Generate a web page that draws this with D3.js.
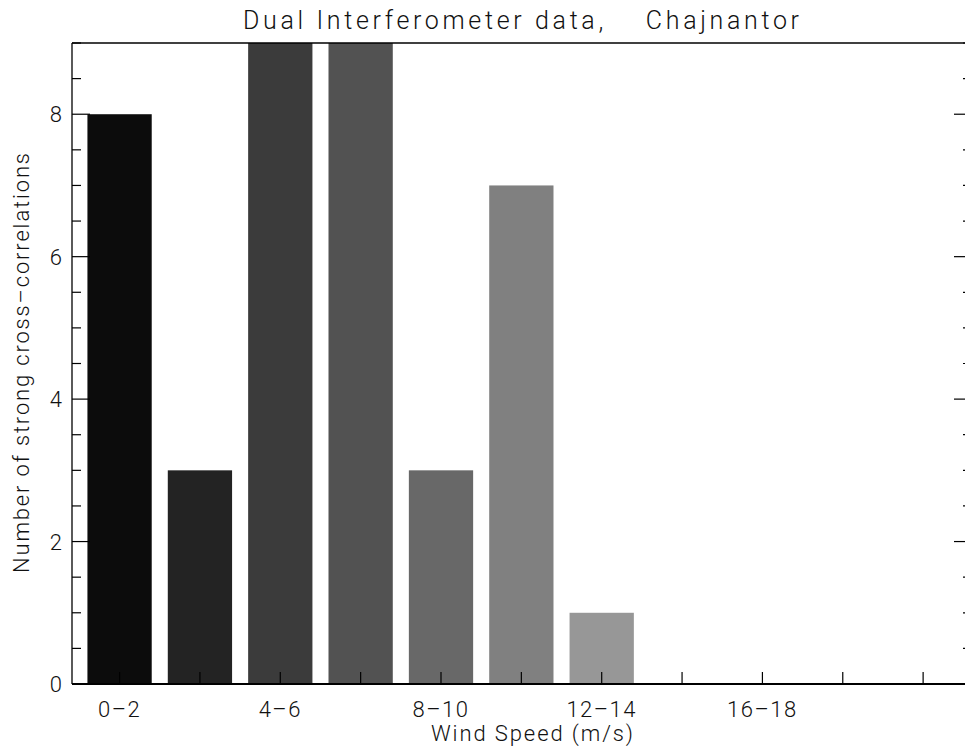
<!DOCTYPE html>
<html>
<head>
<meta charset="utf-8">
<script src="https://cdn.jsdelivr.net/npm/d3@7"></script>
<style>
  body { margin: 0; background: #fff; }
  svg text { font-family: Roboto, "DejaVu Sans", sans-serif; font-weight: 300; fill: #111; }
</style>
</head>
<body>
<div id="chart"></div>
<script>
// wind speed bins and counts
var bins = ["0-2", "2-4", "4-6", "6-8", "8-10", "10-12", "12-14", "14-16", "16-18", "18-20", "20-22"];
var counts = [8, 3, 9, 9, 3, 7, 1, 0, 0, 0, 0];
var labelled = ["0-2", "4-6", "8-10", "12-14", "16-18"];
var barColors = ["#0c0c0c", "#232323", "#3b3b3b", "#525252", "#686868", "#808080", "#979797",
                 "#aeaeae", "#c5c5c5", "#dcdcdc", "#f3f3f3"];
var yMajor = [0, 2, 4, 6, 8];

var W = 965, H = 756;
var plot = { left: 72, right: 972, top: 43, bottom: 684 };

var svg = d3.select("#chart").append("svg")
    .attr("width", W)
    .attr("height", H);

var x = d3.scaleBand()
    .domain(bins)
    .range([79.4, 963.3])
    .paddingInner(0.2)
    .paddingOuter(0.1);

var y = d3.scaleLinear()
    .domain([0, 9])
    .range([plot.bottom, plot.top]);

// bars
svg.selectAll("rect.bar")
    .data(bins)
    .enter().append("rect")
    .attr("class", "bar")
    .attr("x", function(d) { return x(d); })
    .attr("width", x.bandwidth())
    .attr("y", function(d, i) { return y(counts[i]); })
    .attr("height", function(d, i) { return y(0) - y(counts[i]); })
    .attr("fill", function(d, i) { return barColors[i]; });

// frame
var frame = svg.append("g")
    .attr("stroke", "#000")
    .attr("stroke-width", 1.3)
    .attr("fill", "none");
frame.append("line").attr("x1", plot.left).attr("x2", plot.right).attr("y1", plot.top).attr("y2", plot.top);
frame.append("line").attr("x1", plot.left).attr("x2", plot.left).attr("y1", plot.top).attr("y2", plot.bottom);
frame.append("line").attr("x1", plot.right).attr("x2", plot.right).attr("y1", plot.top).attr("y2", plot.bottom);
frame.append("line").attr("x1", plot.left).attr("x2", plot.right).attr("y1", plot.bottom).attr("y2", plot.bottom)
    .attr("stroke-width", 2);

// y ticks, both sides
var yTicks = d3.range(0, 9.01, 0.5);
var tk = svg.append("g").attr("stroke", "#000").attr("stroke-width", 1.2);
yTicks.forEach(function(v) {
    var len = (v % 2 === 0) ? 18 : 9;
    tk.append("line").attr("x1", plot.left).attr("x2", plot.left + len).attr("y1", y(v)).attr("y2", y(v));
    tk.append("line").attr("x1", plot.right - len).attr("x2", plot.right).attr("y1", y(v)).attr("y2", y(v));
});

// x ticks at bar centres
bins.forEach(function(b) {
    var cx = x(b) + x.bandwidth() / 2;
    tk.append("line").attr("x1", cx).attr("x2", cx).attr("y1", plot.bottom).attr("y2", plot.bottom - 12);
});

// y labels
svg.selectAll("text.ylab")
    .data(yMajor)
    .enter().append("text")
    .attr("class", "ylab")
    .attr("x", 62)
    .attr("y", function(d) { return y(d) + 8; })
    .attr("text-anchor", "end")
    .attr("font-size", 22)
    .text(function(d) { return d; });

// x labels
svg.selectAll("text.xlab")
    .data(labelled)
    .enter().append("text")
    .attr("class", "xlab")
    .attr("x", function(d) { return x(d) + x.bandwidth() / 2; })
    .attr("y", 717)
    .attr("text-anchor", "middle")
    .attr("font-size", 22)
    .attr("letter-spacing", 1.5)
    .text(function(d) { return d.replace("-", "\u2013"); });

// titles
svg.append("text")
    .attr("x", 521)
    .attr("y", 28.5)
    .attr("text-anchor", "middle")
    .attr("font-size", 25)
    .attr("textLength", 556)
    .attr("xml:space", "preserve")
    .style("white-space", "pre")
    .text("Dual Interferometer data,    Chajnantor");

svg.append("text")
    .attr("x", 532)
    .attr("y", 741)
    .attr("text-anchor", "middle")
    .attr("font-size", 22)
    .attr("textLength", 202)
    .text("Wind Speed (m/s)");

svg.append("text")
    .attr("transform", "translate(29,363) rotate(-90)")
    .attr("text-anchor", "middle")
    .attr("font-size", 22)
    .attr("textLength", 420)
    .text("Number of strong cross\u2013correlations");
</script>
</body>
</html>
